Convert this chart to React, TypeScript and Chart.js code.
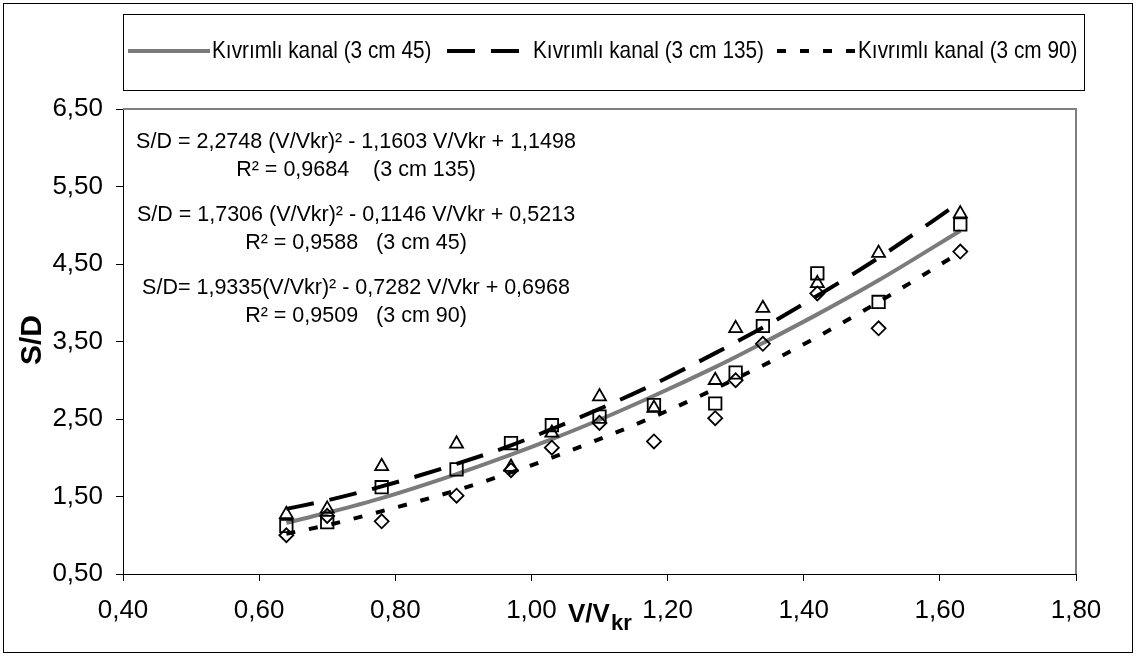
import React, { useEffect, useRef } from "react";
import { Chart, registerables } from "chart.js";

Chart.register(...registerables);

// ---- data ----
const xValues = [0.64, 0.7, 0.78, 0.89, 0.97, 1.03, 1.1, 1.18, 1.27, 1.3, 1.34, 1.42, 1.51, 1.63];
// 3 cm 135 (triangles)
const s135 = [1.27, 1.34, 1.89, 2.18, 1.88, 2.32, 2.79, 2.64, 3.0, 3.67, 3.93, 4.25, 4.64, 5.15];
// 3 cm 45 (squares)
const s45 = [1.12, 1.17, 1.62, 1.85, 2.19, 2.42, 2.53, 2.68, 2.7, 3.1, 3.7, 4.38, 4.01, 5.01];
// 3 cm 90 (diamonds)
const s90 = [1.0, 1.25, 1.18, 1.51, 1.84, 2.13, 2.45, 2.21, 2.51, 3.0, 3.47, 4.12, 3.67, 4.66];

// trend lines as drawn in the picture (agree with printed equations)
const trend135 = [1.34, 1.45, 1.63, 1.92, 2.16, 2.37, 2.63, 2.95, 3.35, 3.49, 3.68, 4.09, 4.58, 5.3];
const trend45 = [1.16, 1.29, 1.48, 1.79, 2.04, 2.24, 2.49, 2.8, 3.17, 3.3, 3.48, 3.85, 4.29, 4.93];
const trend90 = [1.02, 1.13, 1.31, 1.58, 1.81, 2.0, 2.24, 2.53, 2.89, 3.02, 3.19, 3.56, 4.01, 4.65];

const legendLabels = [
  "Kıvrımlı kanal (3 cm 45)",
  "Kıvrımlı kanal (3 cm 135)",
  "Kıvrımlı kanal (3 cm 90)",
];

const equationLines = [
  "S/D = 2,2748 (V/Vkr)² - 1,1603 V/Vkr + 1,1498",
  "R² = 0,9684    (3 cm 135)",
  "S/D = 1,7306 (V/Vkr)² - 0,1146 V/Vkr + 0,5213",
  "R² = 0,9588   (3 cm 45)",
  "S/D= 1,9335(V/Vkr)² - 0,7282 V/Vkr + 0,6968",
  "R² = 0,9509   (3 cm 90)",
];

const xAxisMin = 0.4;
const xAxisMax = 1.8;
const xStep = 0.2;
const yAxisMin = 0.5;
const yAxisMax = 6.5;
const yStep = 1;

const FONT = "'Liberation Sans', Arial, sans-serif";

const toPts = (ys: number[]) => xValues.map((x, i) => ({ x, y: ys[i] }));

const GRAY = "#7b7b7b";

const decorPlugin = {
  id: "decor",
  afterDraw(chart: any) {
    const ctx: CanvasRenderingContext2D = chart.ctx;
    const { left, right, top, bottom } = chart.chartArea;
    ctx.save();

    // plot frame (top & right)
    ctx.strokeStyle = "#808080";
    ctx.lineWidth = 2;
    ctx.setLineDash([]);
    ctx.beginPath();
    ctx.moveTo(left, top);
    ctx.lineTo(right, top);
    ctx.lineTo(right, bottom);
    ctx.stroke();

    // outer border
    ctx.strokeStyle = "#000";
    ctx.lineWidth = 1;
    ctx.strokeRect(3.5, 3.5, 1129, 649);

    // legend box
    ctx.strokeRect(123.5, 14.5, 961, 76);
    const ly = 51;
    const samples = [
      { x0: 128, x1: 210, color: GRAY, width: 4, dash: [] as number[], tx: 212 },
      { x0: 447, x1: 522, color: "#000", width: 4, dash: [28, 16], tx: 533 },
      { x0: 777, x1: 857, color: "#000", width: 4, dash: [9, 14], tx: 858 },
    ];
    samples.forEach((s, i) => {
      ctx.strokeStyle = s.color;
      ctx.lineWidth = s.width;
      ctx.setLineDash(s.dash);
      ctx.beginPath();
      ctx.moveTo(s.x0, ly);
      ctx.lineTo(s.x1, ly);
      ctx.stroke();
      ctx.setLineDash([]);
      ctx.save();
      ctx.translate(s.tx, ly);
      ctx.scale(0.866, 1);
      ctx.fillStyle = "#000";
      ctx.font = `24px ${FONT}`;
      ctx.textAlign = "left";
      ctx.textBaseline = "middle";
      ctx.fillText(legendLabels[i], 0, 0);
      ctx.restore();
    });

    // equations
    const eqY = [142, 170, 215, 243, 288, 316];
    ctx.font = `21.5px ${FONT}`;
    ctx.textAlign = "center";
    ctx.textBaseline = "middle";
    ctx.fillStyle = "#000";
    equationLines.forEach((t, i) => ctx.fillText(t, 356, eqY[i]));

    // y title
    ctx.save();
    ctx.translate(33, 340);
    ctx.rotate(-Math.PI / 2);
    ctx.font = `bold 30px ${FONT}`;
    ctx.textAlign = "center";
    ctx.textBaseline = "middle";
    ctx.fillText("S/D", 0, 0);
    ctx.restore();

    // x title
    ctx.textAlign = "left";
    ctx.textBaseline = "alphabetic";
    ctx.font = `bold 26px ${FONT}`;
    const main = "V/V";
    ctx.fillText(main, 568, 622);
    const w = ctx.measureText(main).width;
    ctx.font = `bold 22px ${FONT}`;
    ctx.fillText("kr", 569 + w, 630);

    ctx.restore();
  },
};

export default function App() {
  const ref = useRef<HTMLCanvasElement | null>(null);

  useEffect(() => {
    if (!ref.current) return;
    const fmt = (v: any) => Number(v).toFixed(2).replace(".", ",");
    const chart = new Chart(ref.current, {
      type: "scatter",
      data: {
        datasets: [
          {
            label: "3 cm 135 pts",
            data: toPts(s135),
            pointStyle: "triangle",
            pointRadius: 7.5,
            borderColor: "#000",
            backgroundColor: "rgba(0,0,0,0)",
            pointBorderWidth: 1.8,
            showLine: false,
          },
          {
            label: "3 cm 45 pts",
            data: toPts(s45),
            pointStyle: "rect",
            pointRadius: 8.8,
            borderColor: "#000",
            backgroundColor: "rgba(0,0,0,0)",
            pointBorderWidth: 1.8,
            showLine: false,
          },
          {
            label: "3 cm 90 pts",
            data: toPts(s90),
            pointStyle: "rectRot",
            pointRadius: 7,
            borderColor: "#000",
            backgroundColor: "rgba(0,0,0,0)",
            pointBorderWidth: 1.8,
            showLine: false,
          },
          {
            label: legendLabels[1],
            data: toPts(trend135),
            showLine: true,
            pointRadius: 0,
            borderColor: "#000",
            borderWidth: 4,
            borderDash: [28, 16],
            cubicInterpolationMode: "monotone",
          },
          {
            label: legendLabels[0],
            data: toPts(trend45),
            showLine: true,
            pointRadius: 0,
            borderColor: GRAY,
            borderWidth: 4,
            cubicInterpolationMode: "monotone",
          },
          {
            label: legendLabels[2],
            data: toPts(trend90),
            showLine: true,
            pointRadius: 0,
            borderColor: "#000",
            borderWidth: 4,
            borderDash: [9, 14],
            cubicInterpolationMode: "monotone",
          },
        ] as any,
      },
      options: {
        animation: false,
        responsive: false,
        devicePixelRatio: 1,
        layout: { padding: { top: 109, right: 60, bottom: 0, left: 0 } },
        plugins: {
          legend: { display: false },
          tooltip: { enabled: false },
          title: { display: false },
        },
        scales: {
          x: {
            type: "linear",
            min: xAxisMin,
            max: xAxisMax,
            afterFit: (s: any) => {
              s.height = 83;
            },
            ticks: {
              stepSize: xStep,
              callback: fmt,
              color: "#000",
              font: { family: FONT, size: 26 },
              padding: 14,
              maxRotation: 0,
              autoSkip: false,
            },
            grid: {
              drawOnChartArea: false,
              drawTicks: true,
              tickLength: 7,
              color: "#000",
            },
            border: { display: true, color: "#000", width: 1 },
          },
          y: {
            type: "linear",
            min: yAxisMin,
            max: yAxisMax,
            afterFit: (s: any) => {
              s.width = 123;
            },
            ticks: {
              stepSize: yStep,
              callback: fmt,
              color: "#000",
              font: { family: FONT, size: 26 },
              padding: 13,
              autoSkip: false,
            },
            grid: {
              drawOnChartArea: false,
              drawTicks: true,
              tickLength: 7,
              color: "#000",
            },
            border: { display: true, color: "#000", width: 1 },
          },
        },
      } as any,
      plugins: [decorPlugin],
    });
    return () => chart.destroy();
  }, []);

  return (
    <div style={{ position: "absolute", left: 0, top: 0, width: 1136, height: 657, background: "#fff" }}>
      <canvas ref={ref} width={1136} height={657} style={{ display: "block" }} />
    </div>
  );
}
